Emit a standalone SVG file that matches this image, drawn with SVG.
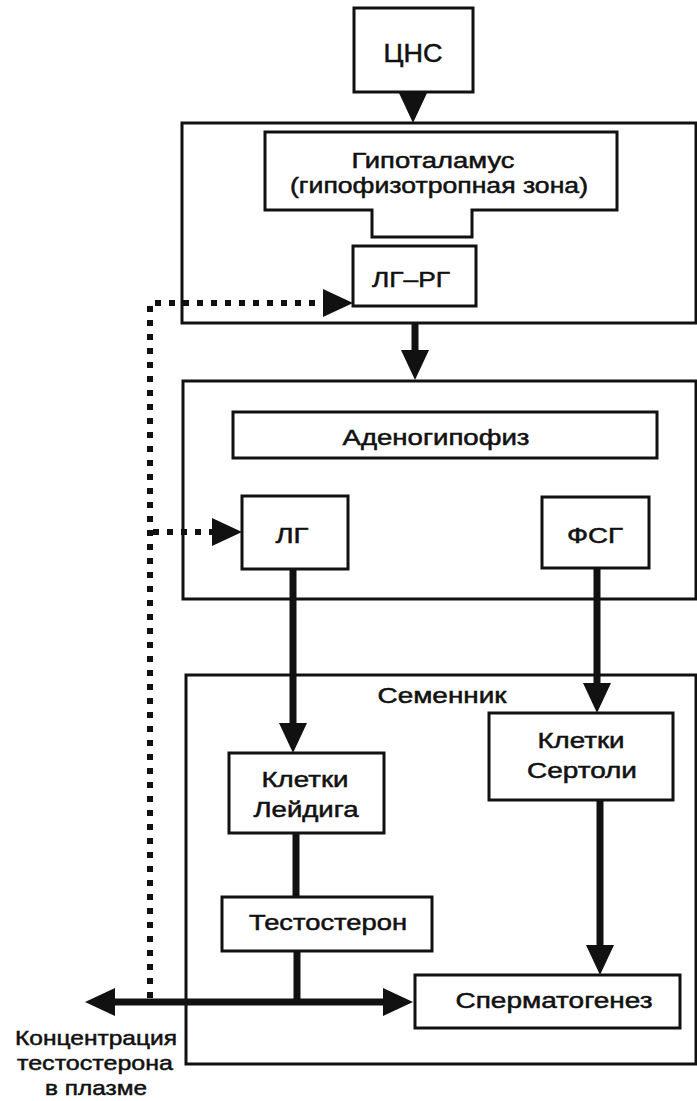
<svg xmlns="http://www.w3.org/2000/svg" width="697" height="1101" viewBox="0 0 697 1101">
<defs>
<style>
.box{fill:none;stroke:#111;stroke-width:3}
.wbox{fill:#fff;stroke:#111;stroke-width:3}
.t{font-family:"Liberation Sans",Arial,sans-serif;font-size:22px;fill:#111;text-anchor:middle;stroke:#111;stroke-width:0.5}
.thick{stroke:#111;stroke-width:7;fill:none}
.dot{stroke:#111;stroke-width:6;fill:none;stroke-dasharray:6 8}
</style>
<marker id="ah" markerUnits="userSpaceOnUse" markerWidth="30" markerHeight="28" viewBox="0 0 30 28" refX="20" refY="14" orient="auto-start-reverse">
<path d="M0,0 L30,14 L0,28 Z" fill="#111"/>
</marker>
</defs>
<rect width="697" height="1101" fill="#fff"/>

<g id="connectors">
<line class="thick" x1="413" y1="92" x2="413" y2="113" marker-end="url(#ah)"/>
<line class="thick" x1="415" y1="323" x2="415" y2="370" marker-end="url(#ah)"/>
<line class="thick" x1="293" y1="569" x2="293" y2="743" marker-end="url(#ah)"/>
<line class="thick" x1="597" y1="568" x2="597" y2="703" marker-end="url(#ah)"/>
<line class="thick" x1="600" y1="800" x2="600" y2="965" marker-end="url(#ah)"/>
<line class="thick" x1="296" y1="833" x2="296" y2="897"/>
<line class="thick" x1="297" y1="951" x2="297" y2="1002"/>
<line class="thick" x1="95" y1="1002" x2="403" y2="1002" marker-start="url(#ah)" marker-end="url(#ah)"/>
<path class="dot" d="M150,998 L150,303 L343,303" marker-end="url(#ah)"/>
<line class="dot" x1="153" y1="532" x2="232" y2="532" marker-end="url(#ah)"/>
</g>

<g id="hypothalamus-region">
<rect class="box" x="182" y="123" width="514" height="200"/>
</g>
<g id="adenohypophysis-region">
<rect class="box" x="183" y="381" width="513" height="218"/>
</g>
<g id="testis-region">
<rect class="box" x="186" y="675" width="510" height="389"/>
<text class="t" x="442" y="703" textLength="129" lengthAdjust="spacingAndGlyphs">Семенник</text>
</g>

<g id="cns">
<rect class="wbox" x="354" y="8" width="119" height="84"/>
<text class="t" x="413" y="62" font-size="25" style="font-size:25px" textLength="59" lengthAdjust="spacingAndGlyphs">ЦНС</text>
</g>
<g id="hypothalamus">
<path class="wbox" d="M265,132 L617,132 L617,210 L472,210 L472,237 L372,237 L372,210 L265,210 Z"/>
<text class="t" x="433" y="168" textLength="163" lengthAdjust="spacingAndGlyphs">Гипоталамус</text>
<text class="t" x="439" y="193" textLength="298" lengthAdjust="spacingAndGlyphs">(гипофизотропная зона)</text>
</g>
<g id="lh-rh">
<rect class="wbox" x="353" y="246" width="123" height="60"/>
<text class="t" x="411" y="287" textLength="78" lengthAdjust="spacingAndGlyphs">ЛГ–РГ</text>
</g>
<g id="adenohypophysis">
<rect class="wbox" x="233" y="412" width="424" height="46"/>
<text class="t" x="436" y="445" textLength="187" lengthAdjust="spacingAndGlyphs">Аденогипофиз</text>
</g>
<g id="lh">
<rect class="wbox" x="242" y="496" width="106" height="73"/>
<text class="t" x="292" y="543" textLength="33" lengthAdjust="spacingAndGlyphs">ЛГ</text>
</g>
<g id="fsh">
<rect class="wbox" x="542" y="497" width="107" height="71"/>
<text class="t" x="595" y="543" textLength="56" lengthAdjust="spacingAndGlyphs">ФСГ</text>
</g>
<g id="leydig">
<rect class="wbox" x="229" y="753" width="155" height="80"/>
<text class="t" x="305" y="787" textLength="87" lengthAdjust="spacingAndGlyphs">Клетки</text>
<text class="t" x="306" y="817" textLength="105" lengthAdjust="spacingAndGlyphs">Лейдига</text>
</g>
<g id="sertoli">
<rect class="wbox" x="489" y="713" width="184" height="87"/>
<text class="t" x="581" y="748" textLength="87" lengthAdjust="spacingAndGlyphs">Клетки</text>
<text class="t" x="582" y="778" textLength="110" lengthAdjust="spacingAndGlyphs">Сертоли</text>
</g>
<g id="testosterone">
<rect class="wbox" x="222" y="897" width="210" height="54"/>
<text class="t" x="328" y="930" textLength="158" lengthAdjust="spacingAndGlyphs">Тестостерон</text>
</g>
<g id="spermatogenesis">
<rect class="wbox" x="415" y="975" width="265" height="53"/>
<text class="t" x="554" y="1008" textLength="197" lengthAdjust="spacingAndGlyphs">Сперматогенез</text>
</g>
<g id="plasma-label">
<text class="t" x="96" y="1045" style="font-size:21px" textLength="162" lengthAdjust="spacingAndGlyphs">Концентрация</text>
<text class="t" x="95" y="1070" style="font-size:21px" textLength="156" lengthAdjust="spacingAndGlyphs">тестостерона</text>
<text class="t" x="96" y="1095" style="font-size:21px" textLength="102" lengthAdjust="spacingAndGlyphs">в плазме</text>
</g>
</svg>
